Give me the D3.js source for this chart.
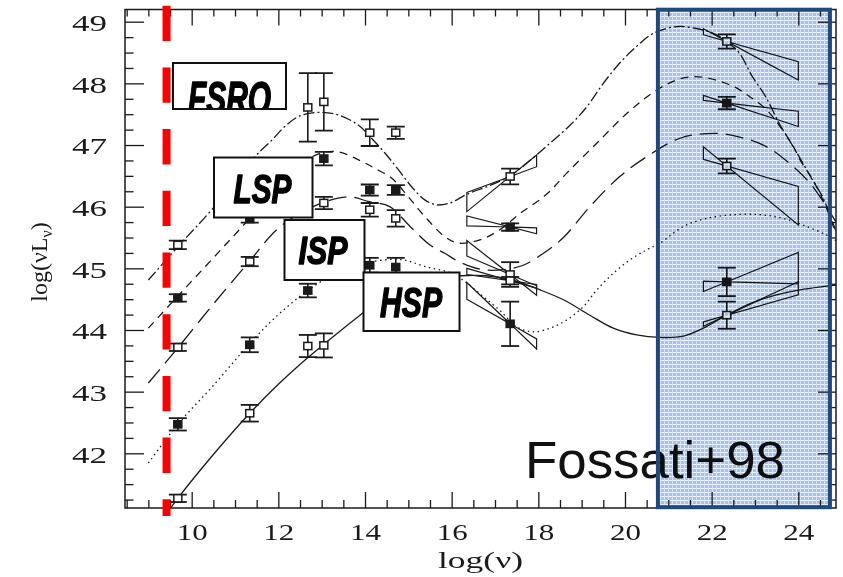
<!DOCTYPE html>
<html><head><meta charset="utf-8">
<script src="https://cdn.jsdelivr.net/npm/d3@7"></script>
<style>body{margin:0;background:#fff}svg{display:block}</style>
</head><body>
<svg id="chart" width="843" height="577"></svg>
<script>
// ---------- data ----------
const xTickLabels = [10,12,14,16,18,20,22,24];
const yTickLabels = [42,43,44,45,46,47,48,49];
const seriesNames = ["bin1","bin2","bin3","bin4","bin5"];
const seriesDash  = ["11,3,2,3","8,6","18,8","1.5,3.5",null];
const seriesFilled = [false,true,false,true,false];

// model curves [log nu, log nuLnu]
const curve1 = [[9.0,44.81],[9.68,45.35],[10.5,45.98],[11.46,46.81],[11.85,47.08],[12.15,47.3],[12.46,47.46],[12.92,47.53],[13.38,47.49],[13.85,47.32],[14.15,47.11],[14.46,46.87],[14.77,46.6],[15.08,46.32],[15.38,46.11],[15.65,46.03],[15.96,46.06],[16.35,46.2],[16.9,46.35],[17.35,46.5],[17.96,46.84],[18.27,47.03],[18.73,47.32],[19.12,47.62],[19.5,48.0],[19.88,48.33],[20.27,48.6],[20.65,48.81],[21.19,48.92],[21.65,48.89],[22.04,48.81],[22.35,48.68],[22.64,48.49],[22.94,48.11],[23.25,47.78],[23.56,47.35],[23.79,47.08],[24.02,46.81],[24.33,46.43],[24.56,46.16],[24.87,45.6]];
const curve2 = [[9.0,44.03],[9.68,44.55],[10.5,45.17],[11.34,45.81],[12.3,46.55],[12.9,46.85],[13.38,46.89],[13.85,46.76],[14.23,46.62],[14.62,46.46],[15.0,46.16],[15.38,45.84],[15.85,45.51],[16.15,45.41],[16.65,45.46],[17.1,45.62],[17.58,45.89],[18.19,46.2],[18.65,46.54],[19.35,47.03],[20.04,47.51],[20.73,47.89],[21.3,48.08],[21.8,48.1],[22.5,47.95],[22.89,47.78],[23.27,47.57],[23.58,47.3],[23.89,46.97],[24.04,46.76],[24.34,46.43],[24.65,45.98],[24.87,45.55]];
const curve3 = [[9.0,43.14],[9.68,43.71],[10.5,44.42],[11.34,45.12],[12.0,45.65],[12.8,46.0],[13.6,46.16],[14.1,46.08],[14.57,46.0],[15.04,45.68],[15.5,45.38],[15.85,45.24],[16.19,45.1],[16.7,44.98],[17.2,44.98],[17.65,45.05],[18.11,45.24],[18.58,45.5],[19.19,46.0],[19.88,46.49],[20.5,46.81],[21.27,47.11],[22.04,47.19],[22.65,47.13],[23.27,46.97],[23.8,46.7],[24.27,46.38],[24.65,46.0],[24.87,45.75]];
const curve4 = [[9.0,41.84],[9.68,42.47],[10.5,43.1],[11.34,43.78],[12.0,44.25],[12.68,44.64],[13.4,44.95],[14.1,45.1],[14.85,45.14],[15.38,45.03],[16.0,44.92],[16.35,44.76],[16.73,44.54],[17.11,44.32],[17.5,44.05],[17.88,43.97],[18.27,44.03],[18.65,44.16],[19.04,44.38],[19.35,44.65],[19.73,44.92],[20.12,45.14],[20.5,45.3],[20.81,45.41],[21.35,45.68],[21.88,45.81],[22.5,45.87],[23.12,45.87],[23.65,45.81],[24.19,45.68],[24.65,45.54],[24.87,45.45]];
const curve5 = [[9.45,41.05],[9.68,41.27],[10.5,41.98],[11.34,42.65],[12.0,43.12],[12.61,43.51],[13.07,43.78],[13.85,44.22],[14.5,44.55],[15.3,44.8],[16.2,44.88],[16.8,44.88],[17.35,44.82],[18.04,44.65],[18.58,44.49],[19.19,44.24],[19.73,44.03],[20.27,43.92],[20.81,43.88],[21.35,43.9],[21.81,44.03],[22.35,44.24],[22.89,44.43],[23.5,44.57],[24.04,44.65],[24.65,44.71],[24.87,44.73]];

// measured points [log nu, log nuLnu, error]
const pts1 = [[9.68,45.38,0.07],[12.68,47.61,0.555],[13.05,47.70,0.465],[14.11,47.20,0.216],[14.71,47.20,0.10],[17.35,46.49,0.127],[22.35,48.68,0.115]];
const pts2 = [[9.68,44.52,0.06],[11.34,45.80,0.06],[13.05,46.78,0.11],[14.11,46.27,0.09],[14.71,46.27,0.08],[17.35,45.67,0.06],[22.35,47.68,0.10]];
const pts3 = [[9.68,43.72,0.06],[11.34,45.11,0.075],[13.05,46.06,0.10],[14.11,45.95,0.11],[14.71,45.81,0.135],[17.35,44.90,0.2],[22.35,46.66,0.12]];
const pts4 = [[9.68,42.47,0.10],[11.34,43.76,0.12],[12.68,44.64,0.11],[14.11,45.05,0.12],[14.71,45.02,0.15],[17.35,44.10,0.36],[22.35,44.78,0.23]];
const pts5 = [[9.68,41.27,0.06],[11.34,42.65,0.135],[12.68,43.74,0.18],[13.05,43.75,0.195],[17.35,44.80,0.06],[22.35,44.24,0.22]];

// spectral bow-ties: centre x, x-range, two slopes per series
const xrayX = 17.35, xrayRange = [16.35, 17.96];
const gammaX = 22.35, gammaRange = [21.81, 24.0];
const xraySlopes  = [[0.26,0.57],[-0.02,-0.18],[-0.3,-0.55],[-0.4,-0.67],[-0.1,-0.2]];
const gammaSlopes = [[-0.2,-0.38],[-0.08,-0.23],[-0.2,-0.58],[0.29,-0.02],[0.2,0.33]];

// annotations
const radioCut = 9.42;
const gammaWindow = [20.76, 24.73];
const labelBoxes = [
  {text:"FSRQ", x:173, y:63, w:113, h:46, tx:188, ty:114, fs:47, tl:83},
  {text:"LSP",  x:214, y:157.5, w:98.5, h:60, tx:233.5, ty:203, fs:41, tl:58},
  {text:"ISP",  x:284.5, y:220, w:80, h:60, tx:298.5, ty:264, fs:38, tl:49},
  {text:"HSP",  x:363.5, y:272.5, w:96, h:58.5, tx:380, ty:316.5, fs:42, tl:62}
];
const creditText = "Fossati+98";

// ---------- drawing ----------
const curves = [curve1,curve2,curve3,curve4,curve5];
const points = [pts1,pts2,pts3,pts4,pts5];
const P = {l:125, r:836, t:9.5, b:508};
const x = d3.scaleLinear().domain([8.461, 24.87]).range([P.l, P.r]);
const y = d3.scaleLinear().domain([41.113, 49.198]).range([P.b, P.t]);
const svg = d3.select("#chart");
const defs = svg.append("defs");
defs.append("clipPath").attr("id","plotclip").append("rect")
  .attr("x",P.l).attr("y",P.t).attr("width",P.r-P.l).attr("height",P.b-P.t);
const pat = defs.append("pattern").attr("id","grid").attr("width",4).attr("height",4)
  .attr("patternUnits","userSpaceOnUse");
pat.append("rect").attr("width",4).attr("height",4).attr("fill","#a7c1e9");
pat.append("rect").attr("width",4).attr("height",1).attr("fill","#eef4fc");
pat.append("rect").attr("width",1).attr("height",4).attr("fill","#d6e3f6");

const ink = "#1a1a1a";
const serif = "'Liberation Serif', 'DejaVu Serif', serif";

// minor ticks
const xMinor = d3.range(8.5, 24.87, 0.5).filter(v => !xTickLabels.includes(v));
const yMinor = d3.range(41.25, 49.2, 0.25).filter(v => !yTickLabels.includes(v));

function tickAxis(axisFn, scale, vals, size, tr, withLabels){
  const a = axisFn(scale).tickValues(vals).tickSize(size).tickSizeOuter(0);
  if(!withLabels) a.tickFormat("");
  const g = svg.append("g").attr("transform", tr).call(a);
  g.select(".domain").remove();
  g.selectAll("line").attr("stroke", ink).attr("stroke-width", 1.3);
  return g;
}
// bottom
const gb = tickAxis(d3.axisBottom, x, xTickLabels, -16, `translate(0,${P.b})`, true);
tickAxis(d3.axisBottom, x, xMinor, -8, `translate(0,${P.b})`, false);
gb.selectAll("text").attr("y", 32).attr("dy", null)
  .attr("font-family", serif).attr("font-size", 23).attr("fill", ink)
  .attr("textLength", 31).attr("lengthAdjust","spacingAndGlyphs");
// top
tickAxis(d3.axisTop, x, xTickLabels, -16, `translate(0,${P.t})`, false);
tickAxis(d3.axisTop, x, xMinor, -7, `translate(0,${P.t})`, false);
// left
const gl = tickAxis(d3.axisLeft, y, yTickLabels, -19, `translate(${P.l},0)`, true);
tickAxis(d3.axisLeft, y, yMinor, -8.5, `translate(${P.l},0)`, false);
gl.selectAll("text").attr("x", -18).attr("dy", "0.38em")
  .attr("font-family", serif).attr("font-size", 23).attr("fill", ink)
  .attr("textLength", 35).attr("lengthAdjust","spacingAndGlyphs");
// right
tickAxis(d3.axisRight, y, yTickLabels, -18, `translate(${P.r},0)`, false);
tickAxis(d3.axisRight, y, yMinor, -6, `translate(${P.r},0)`, false);

// frame
svg.append("rect").attr("x",P.l).attr("y",P.t).attr("width",P.r-P.l).attr("height",P.b-P.t)
  .attr("fill","none").attr("stroke",ink).attr("stroke-width",1.5);

// axis titles
svg.append("text").attr("x", 438).attr("y", 568)
  .attr("font-family", serif).attr("font-size", 23).attr("fill", ink)
  .attr("textLength", 85).attr("lengthAdjust","spacingAndGlyphs").text("log(ν)");
const yl = svg.append("text").attr("transform","translate(47,262) rotate(-90)")
  .attr("text-anchor","middle").attr("font-family", serif).attr("font-size", 24).attr("fill", ink);
yl.append("tspan").text("log(νL");
yl.append("tspan").attr("font-size",16).attr("dy",5).text("ν");
yl.append("tspan").attr("dy",-5).text(")");

// plot content
const plot = svg.append("g").attr("clip-path","url(#plotclip)");
const line = d3.line().x(d=>x(d[0])).y(d=>y(d[1])).curve(d3.curveCatmullRom.alpha(0.5));
curves.forEach((c,i)=>{
  plot.append("path").datum(c).attr("d", line)
    .attr("fill","none").attr("stroke", ink).attr("stroke-width", 1.3)
    .attr("stroke-dasharray", seriesDash[i]);
});

function bowtie(x0, y0, range, s){
  const [xa, xb] = range;
  return [[xa, y0+s[0]*(xa-x0)],[xb, y0+s[0]*(xb-x0)],[xb, y0+s[1]*(xb-x0)],[xa, y0+s[1]*(xa-x0)]];
}
const poly = d3.line().x(d=>x(d[0])).y(d=>y(d[1]));
points.forEach((pts,i)=>{
  const xr = pts.find(p=>p[0]===xrayX), gr = pts.find(p=>p[0]===gammaX);
  [[xr, xrayX, xrayRange, xraySlopes[i]],[gr, gammaX, gammaRange, gammaSlopes[i]]].forEach(([p,x0,rg,s])=>{
    if(!p) return;
    plot.append("path").attr("d", poly(bowtie(x0, p[1], rg, s)) + "Z")
      .attr("fill","none").attr("stroke", ink).attr("stroke-width", 1.2);
  });
});

points.forEach((pts,i)=>{
  const g = plot.append("g").attr("class", seriesNames[i]);
  pts.forEach(p=>{
    const cx = x(p[0]), y1 = y(p[1]+p[2]), y2 = y(p[1]-p[2]);
    g.append("line").attr("x1",cx).attr("x2",cx).attr("y1",y1).attr("y2",y2)
      .attr("stroke",ink).attr("stroke-width",1.6);
    [y1,y2].forEach(yy=> g.append("line").attr("x1",cx-9).attr("x2",cx+9).attr("y1",yy).attr("y2",yy)
      .attr("stroke",ink).attr("stroke-width",1.8));
    g.append("rect").attr("x",cx-4).attr("y",y(p[1])-3.6).attr("width",8).attr("height",7.2)
      .attr("fill", seriesFilled[i] ? ink : "#fff").attr("stroke",ink).attr("stroke-width",1.5);
  });
});

// red dashed reference line
svg.append("line").attr("x1",x(radioCut)).attr("x2",x(radioCut)).attr("y1",5.7).attr("y2",516)
  .attr("stroke","#ff0000").attr("stroke-width",8).attr("stroke-dasharray","35.3,26.4");

// label boxes
labelBoxes.forEach((b,i)=>{
  svg.append("rect").attr("x",b.x).attr("y",b.y).attr("width",b.w).attr("height",b.h)
    .attr("fill","#fff").attr("stroke","#111").attr("stroke-width",2);
  defs.append("clipPath").attr("id","lb"+i).append("rect")
    .attr("x",b.x+1).attr("y",b.y+1).attr("width",b.w-2).attr("height",b.h-2);
  svg.append("text").attr("clip-path",`url(#lb${i})`).attr("x",b.tx).attr("y",b.ty)
    .attr("font-family","'Liberation Sans', Arial, sans-serif").attr("font-weight","bold")
    .attr("font-style","italic").attr("font-size",b.fs).attr("fill","#000")
    .attr("stroke","#000").attr("stroke-width",1.4).attr("stroke-linejoin","round")
    .attr("textLength",b.tl).attr("lengthAdjust","spacingAndGlyphs").text(b.text);
});

// credit text
svg.append("text").attr("x",525).attr("y",478)
  .attr("font-family","'Liberation Sans', Arial, sans-serif").attr("font-size",52).attr("fill","#111")
  .attr("textLength",260).attr("lengthAdjust","spacingAndGlyphs").text(creditText);

// gamma-ray window overlay
svg.append("rect").attr("x",x(gammaWindow[0])).attr("y",9.7)
  .attr("width",x(gammaWindow[1])-x(gammaWindow[0])).attr("height",497.5)
  .attr("fill","url(#grid)").style("mix-blend-mode","multiply");
svg.append("rect").attr("x",x(gammaWindow[0])).attr("y",9.7)
  .attr("width",x(gammaWindow[1])-x(gammaWindow[0])).attr("height",497.5)
  .attr("fill","none").attr("stroke","#1f4a80").attr("stroke-width",4);
</script>
</body></html>
